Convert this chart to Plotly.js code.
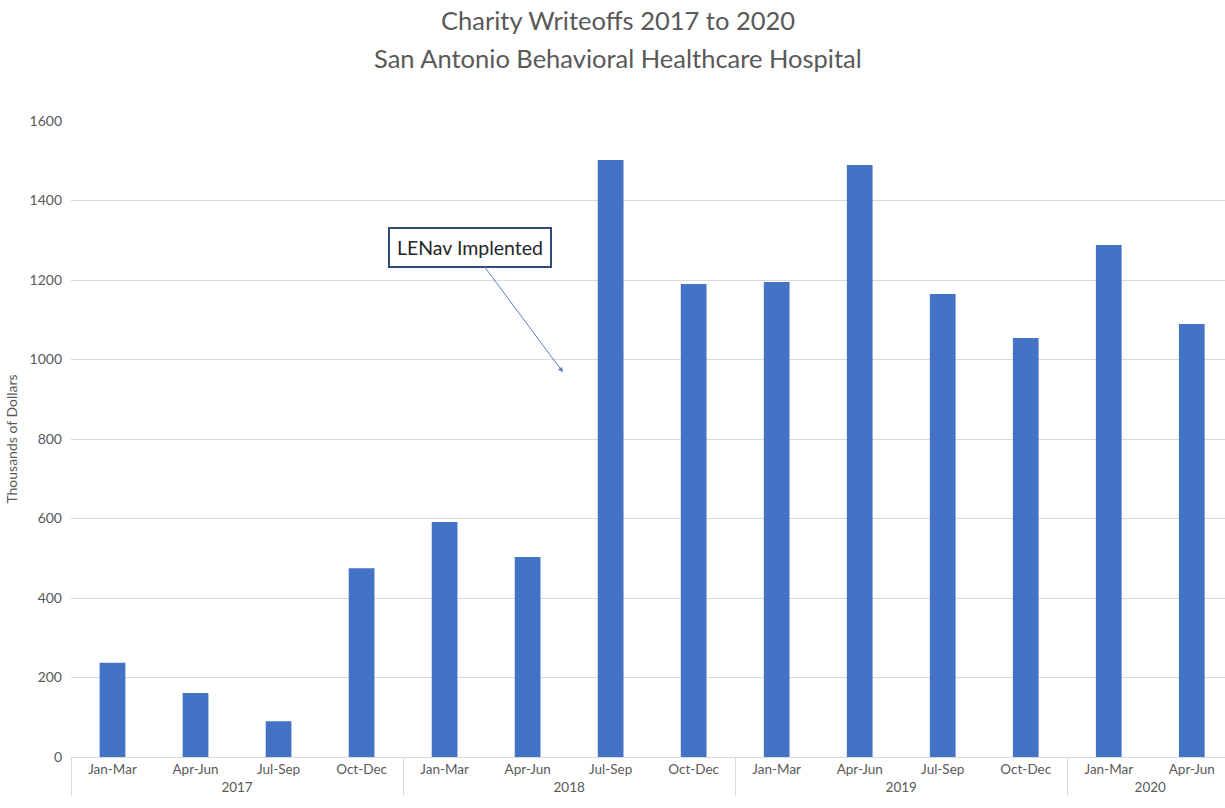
<!DOCTYPE html>
<html>
<head>
<meta charset="utf-8">
<script src="https://cdn.plot.ly/plotly-3.0.1.min.js"></script>
<style>html,body{margin:0;padding:0;background:#fff;}#chart{width:1225px;height:808px;}</style>
</head>
<body>
<div id="chart"></div>
<script>
const years = ["2017","2017","2017","2017","2018","2018","2018","2018","2019","2019","2019","2019","2020","2020"];
const quarters = ["Jan-Mar","Apr-Jun","Jul-Sep","Oct-Dec","Jan-Mar","Apr-Jun","Jul-Sep","Oct-Dec","Jan-Mar","Apr-Jun","Jul-Sep","Oct-Dec","Jan-Mar","Apr-Jun"];
const writeoffs = [237, 161, 90, 475, 591, 503, 1502, 1190, 1195, 1489, 1165, 1054, 1288, 1089];
const yTicks = [0, 200, 400, 600, 800, 1000, 1200, 1400, 1600];
const titleLines = ["Charity Writeoffs 2017 to 2020", "San Antonio Behavioral Healthcare Hospital"];
const noteText = "LENav Implented";

const font = "Lato, 'Noto Sans', sans-serif";
const grey = "#595959";

const trace = {
  type: "bar",
  x: [years, quarters],
  y: writeoffs,
  marker: {color: "#4472C4"},
  width: 0.31,
  hoverinfo: "y"
};

// plot area: top 121, bottom 757 -> height 636
const plotTop = 121, plotH = 636;
const titleYs = [20, 58];
const titleAnns = titleLines.map((t, i) => ({
  xref: "paper", yref: "paper",
  x: (618 - 71) / 1154, y: (plotTop + plotH - titleYs[i]) / plotH,
  xanchor: "center", yanchor: "middle",
  text: t, showarrow: false,
  font: {family: font, size: 25.5, color: grey}
}));

const layout = {
  width: 1225, height: 808,
  margin: {l: 71, r: 0, t: 121, b: 51},
  paper_bgcolor: "#ffffff", plot_bgcolor: "#ffffff",
  font: {family: font, color: grey},
  showlegend: false,
  xaxis: {
    type: "multicategory",
    range: [-0.5, 13.4],
    showline: true, linecolor: "#d9d9d9", linewidth: 1,
    showgrid: false,
    showdividers: true, dividercolor: "#d9d9d9", dividerwidth: 1,
    tickfont: {family: font, size: 13.5, color: grey},
    ticks: ""
  },
  yaxis: {
    range: [0, 1600],
    tickvals: yTicks,
    ticktext: yTicks.map(String),
    showgrid: true, gridcolor: "#d9d9d9", gridwidth: 1,
    zeroline: false, showline: false,
    tickfont: {family: font, size: 14, color: grey},
    ticklen: 0, ticklabelstandoff: 8,
    title: {text: "Thousands of Dollars", font: {family: font, size: 14, color: grey}, standoff: 8}
  },
  annotations: titleAnns.concat([{
    xref: "paper", yref: "paper",
    x: 0.4263, y: 0.605,
    ax: -93, ay: -125,
    text: noteText,
    showarrow: true,
    arrowhead: 2, arrowsize: 1, arrowwidth: 1, arrowcolor: "#5B7FC0",
    font: {family: font, size: 19.5, color: "#262626"},
    bgcolor: "#ffffff",
    bordercolor: "#2F4A75", borderwidth: 2, borderpad: 7
  }])
};

Plotly.newPlot("chart", [trace], layout, {displayModeBar: false, staticPlot: true});
</script>
</body>
</html>
